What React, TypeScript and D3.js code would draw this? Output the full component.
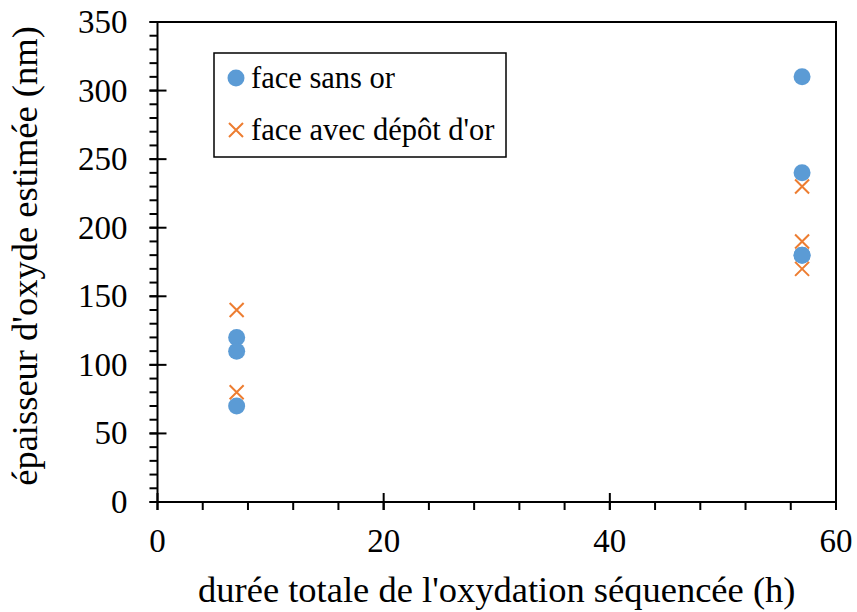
import React, { useEffect, useRef } from 'react';
import * as d3 from 'd3';

const xTicks = [0, 20, 40, 60];
const yTicks = [0, 50, 100, 150, 200, 250, 300, 350];

// face sans or
const sansOrX = [7, 7, 7, 57, 57, 57, 57];
const sansOrY = [120, 110, 70, 310, 240, 180, 180];

// face avec dépôt d'or
const avecOrX = [7, 7, 57, 57, 57];
const avecOrY = [140, 80, 230, 190, 170];

const BLUE = '#5B9BD5';
const ORANGE = '#ED7D31';

const App: React.FC = () => {
  const svgRef = useRef<SVGSVGElement>(null);
  const width = 857;
  const height = 612;
  const margin = { left: 157.5, right: 21, top: 22, bottom: 110 };

  useEffect(() => {
    if (!svgRef.current) return;
    const svg = d3.select(svgRef.current);
    svg.selectAll('*').remove();

    const x = d3.scaleLinear().domain([0, 60]).range([margin.left, width - margin.right]);
    const y = d3.scaleLinear().domain([0, 350]).range([height - margin.bottom, margin.top]);
    const font = 'Liberation Serif, DejaVu Serif, serif';

    // plot border
    svg.append('rect')
      .attr('x', x(0)).attr('y', y(350))
      .attr('width', x(60) - x(0)).attr('height', y(0) - y(350))
      .attr('fill', 'none').attr('stroke', '#000').attr('stroke-width', 2);

    // y minor ticks
    d3.range(0, 351, 10).forEach(v => {
      svg.append('line')
        .attr('x1', x(0) - 8).attr('x2', x(0))
        .attr('y1', y(v)).attr('y2', y(v))
        .attr('stroke', '#000').attr('stroke-width', 2);
    });
    yTicks.forEach(v => {
      svg.append('line')
        .attr('x1', x(0) - 8).attr('x2', x(0) + 9)
        .attr('y1', y(v)).attr('y2', y(v))
        .attr('stroke', '#000').attr('stroke-width', 2);
      svg.append('text')
        .attr('x', x(0) - 30).attr('y', y(v) + 11)
        .attr('text-anchor', 'end')
        .attr('font-family', font).attr('font-size', 33)
        .text(v);
    });

    // x minor ticks
    d3.range(0, 61, 4).forEach(v => {
      svg.append('line')
        .attr('x1', x(v)).attr('x2', x(v))
        .attr('y1', y(0)).attr('y2', y(0) + 8)
        .attr('stroke', '#000').attr('stroke-width', 2);
    });
    xTicks.forEach(v => {
      svg.append('line')
        .attr('x1', x(v)).attr('x2', x(v))
        .attr('y1', y(0) - 9).attr('y2', y(0) + 8)
        .attr('stroke', '#000').attr('stroke-width', 2);
      svg.append('text')
        .attr('x', x(v)).attr('y', y(0) + 50)
        .attr('text-anchor', 'middle')
        .attr('font-family', font).attr('font-size', 33)
        .text(v);
    });

    // axis titles
    svg.append('text')
      .attr('x', (x(0) + x(60)) / 2).attr('y', 602)
      .attr('text-anchor', 'middle')
      .attr('font-family', font).attr('font-size', 36.5)
      .text("durée totale de l'oxydation séquencée (h)");
    svg.append('text')
      .attr('transform', `translate(37, 256) rotate(-90)`)
      .attr('text-anchor', 'middle')
      .attr('font-family', font).attr('font-size', 36.5)
      .text("épaisseur d'oxyde estimée (nm)");

    // circles
    svg.append('g').selectAll('circle')
      .data(sansOrX.map((d, i) => [d, sansOrY[i]]))
      .enter().append('circle')
      .attr('cx', d => x(d[0])).attr('cy', d => y(d[1]))
      .attr('r', 8.5).attr('fill', BLUE);

    // crosses
    const s = 7;
    svg.append('g').selectAll('path')
      .data(avecOrX.map((d, i) => [d, avecOrY[i]]))
      .enter().append('path')
      .attr('d', d => {
        const cx = x(d[0]);
        const cy = y(d[1]);
        return `M${cx - s},${cy - s}L${cx + s},${cy + s}M${cx - s},${cy + s}L${cx + s},${cy - s}`;
      })
      .attr('stroke', ORANGE).attr('stroke-width', 2).attr('fill', 'none');

    // legend
    const lg = svg.append('g');
    lg.append('rect')
      .attr('x', 214).attr('y', 53).attr('width', 292).attr('height', 104)
      .attr('fill', '#fff').attr('stroke', '#000').attr('stroke-width', 1.5);
    lg.append('circle').attr('cx', 236).attr('cy', 78).attr('r', 8.5).attr('fill', BLUE);
    lg.append('text').attr('x', 251).attr('y', 88)
      .attr('font-family', font).attr('font-size', 30.5).text('face sans or');
    lg.append('path')
      .attr('d', `M${236 - s},${130 - s}L${236 + s},${130 + s}M${236 - s},${130 + s}L${236 + s},${130 - s}`)
      .attr('stroke', ORANGE).attr('stroke-width', 2);
    lg.append('text').attr('x', 251).attr('y', 140)
      .attr('font-family', font).attr('font-size', 30.5).text("face avec dépôt d'or");
  }, []);

  return (
    <svg
      ref={svgRef}
      width={width}
      height={height}
      style={{ position: 'absolute', left: 0, top: 0, background: '#fff' }}
    />
  );
};

export default App;
